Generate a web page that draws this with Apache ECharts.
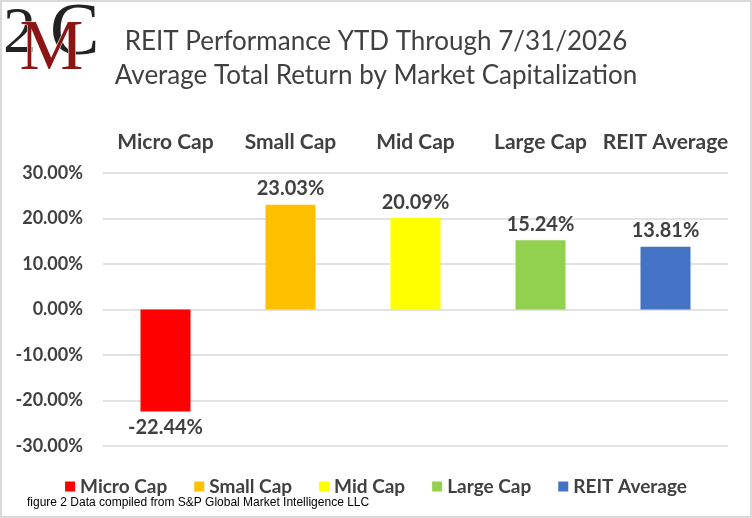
<!DOCTYPE html>
<html>
<head>
<meta charset="utf-8">
<script src="https://cdn.jsdelivr.net/npm/echarts@6/dist/echarts.min.js"></script>
<style>
  html, body { margin: 0; padding: 0; background: #fff; }
  #chart { width: 752px; height: 518px; }
</style>
</head>
<body>
<div id="chart"></div>
<script>
// categories and values (percent)
const categories = ['Micro Cap', 'Small Cap', 'Mid Cap', 'Large Cap', 'REIT Average'];
const returns = [-22.44, 23.03, 20.09, 15.24, 13.81];
const barColors = ['#FF0000', '#FFC000', '#FFFF00', '#92D050', '#4472C4'];
const yTicks = [-30, -20, -10, 0, 10, 20, 30];

const font = 'Lato';
const txt = '#404040';

const myChart = echarts.init(document.getElementById('chart'));

// one series per category so the legend shows every colour
const series = categories.map(function (name, i) {
  return {
    name: name,
    type: 'bar',
    barWidth: 50,
    barGap: '-100%',
    itemStyle: { color: barColors[i] },
    data: categories.map(function (c, j) { return j === i ? returns[i] : null; }),
    label: {
      show: true,
      position: returns[i] < 0 ? 'bottom' : 'top',
      distance: 6,
      fontFamily: font,
      fontWeight: 'bold',
      fontSize: 20,
      color: txt,
      formatter: function (p) { return p.value.toFixed(2) + '%'; }
    }
  };
});

const option = {
  backgroundColor: '#fff',
  animation: false,
  title: {
    text: 'REIT Performance YTD Through 7/31/2026\nAverage Total Return by Market Capitalization',
    left: 'center',
    top: 20,
    textStyle: {
      fontFamily: font,
      fontWeight: 'normal',
      fontSize: 26,
      lineHeight: 34,
      color: txt
    }
  },
  legend: {
    bottom: 17,
    left: 'center',
    itemWidth: 10,
    itemHeight: 10,
    itemGap: 27,
    icon: 'rect',
    data: categories,
    textStyle: { fontFamily: font, fontWeight: 'bold', fontSize: 19, color: txt }
  },
  grid: { left: 103, right: 24, top: 173, bottom: 72 },
  xAxis: {
    type: 'category',
    position: 'top',
    data: categories,
    axisLine: { show: false },
    axisTick: { show: false },
    axisLabel: {
      interval: 0,
      margin: 20,
      fontFamily: font,
      fontWeight: 'bold',
      fontSize: 21,
      color: txt
    }
  },
  yAxis: {
    type: 'value',
    min: yTicks[0],
    max: yTicks[yTicks.length - 1],
    interval: 10,
    axisLine: { show: false },
    axisTick: { show: false },
    splitLine: { lineStyle: { color: '#D9D9D9', width: 1.5 } },
    axisLabel: {
      margin: 20,
      fontFamily: font,
      fontWeight: 'bold',
      fontSize: 18,
      color: txt,
      formatter: function (v) { return v.toFixed(2) + '%'; }
    }
  },
  series: series,
  graphic: [
    {
      type: 'rect',
      shape: { x: 1, y: 1, width: 750, height: 516 },
      style: { fill: 'none', stroke: '#D9D9D9', lineWidth: 2 },
      silent: true
    },
    // logo: 2 M C
    {
      type: 'text', left: 3, top: 2,
      style: { text: '2', font: '66px "Liberation Serif"', fill: '#222' }
    },
    {
      type: 'text', left: 50, top: -2,
      style: { text: 'C', font: '74px "Liberation Serif"', fill: '#222' }
    },
    {
      type: 'text', left: 19, top: 14,
      style: { text: 'M', font: '72px "Liberation Serif"', fill: '#8B1414', stroke: '#fff', lineWidth: 1 }
    },
    {
      type: 'text', left: 27, top: 497,
      style: { text: 'figure 2 Data compiled from S&P Global Market Intelligence LLC', font: '12px "Liberation Sans Narrow", "Liberation Sans"', fill: '#000' }
    }
  ]
};

myChart.setOption(option);
</script>
</body>
</html>
